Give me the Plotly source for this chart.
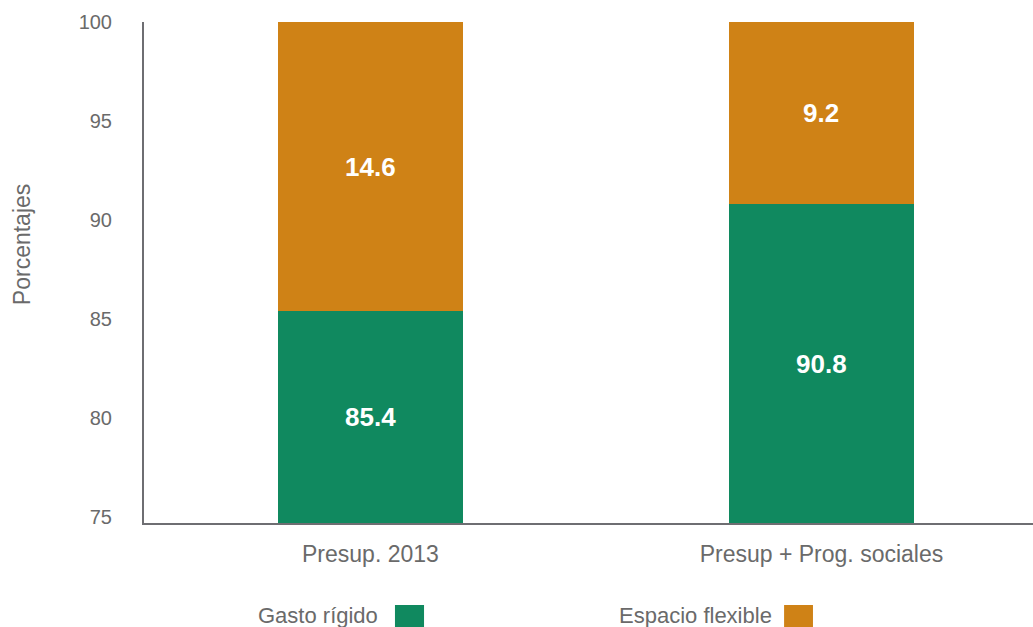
import plotly.graph_objects as go

categories = ["Presup. 2013", "Presup + Prog. sociales"]
series_names = ["Gasto rígido", "Espacio flexible"]
gasto_rigido = [85.4, 90.8]
espacio_flexible = [14.6, 9.2]
y_ticks = [75, 80, 85, 90, 95, 100]

colors = ["#10895F", "#CF8216"]
font_family = "Liberation Sans, Arial, Helvetica, sans-serif"
gray_text = "#6a6a6a"
y_min, y_max = 74.7, 100

fig = go.Figure()
for name, vals, col in zip(series_names, [gasto_rigido, espacio_flexible], colors):
    fig.add_trace(go.Bar(
        x=categories, y=vals, name=name, marker=dict(color=col, line=dict(width=0)),
        width=0.41, hoverinfo="skip", showlegend=False,
    ))

# value labels centred on the visible part of each segment
for cat, g, e in zip(categories, gasto_rigido, espacio_flexible):
    for val, lo, hi in [(g, y_min, g), (e, g, min(g + e, y_max))]:
        fig.add_annotation(
            x=cat, y=(lo + hi) / 2, text=f"<b>{val:.1f}</b>", showarrow=False,
            font=dict(family=font_family, size=26, color="white"),
            xanchor="center", yanchor="middle",
        )

fig.update_layout(
    barmode="stack",
    width=1033, height=627,
    margin=dict(l=144, r=0, t=22, b=104),
    paper_bgcolor="white", plot_bgcolor="white",
    font=dict(family=font_family, color=gray_text),
    xaxis=dict(
        range=[-0.502, 1.469], showgrid=False, zeroline=False,
        showline=True, linecolor="#6e6e72", linewidth=2,
        ticks="", tickfont=dict(size=23, color=gray_text),
        ticklabelstandoff=9,
    ),
    yaxis=dict(
        range=[y_min, y_max], tickvals=y_ticks, showgrid=False, zeroline=False,
        showline=True, linecolor="#6e6e72", linewidth=2,
        ticks="", tickfont=dict(size=20, color=gray_text),
        ticklabelstandoff=26,
    ),
)

# y-axis title
fig.add_annotation(
    text="Porcentajes", textangle=-90, x=-0.137, y=0.555, xref="paper", yref="paper",
    xanchor="center", yanchor="middle", showarrow=False,
    font=dict(size=23, color=gray_text, family=font_family),
)

# custom legend (text left of colored square)
legend_text_x = [0.2655, 0.7087]
legend_box_x = [(0.2823, 0.315), (0.72, 0.7525)]
for name, col, tx, (bx0, bx1) in zip(series_names, colors, legend_text_x, legend_box_x):
    fig.add_annotation(
        text=name, x=tx, y=-0.1856, xref="paper", yref="paper",
        xanchor="right", yanchor="middle", showarrow=False,
        font=dict(size=22, color=gray_text, family=font_family),
    )
    fig.add_shape(
        type="rect", xref="paper", yref="paper",
        x0=bx0, x1=bx1, y0=-0.2216, y1=-0.1637,
        fillcolor=col, line=dict(width=0),
    )

fig.write_html("out.html")
